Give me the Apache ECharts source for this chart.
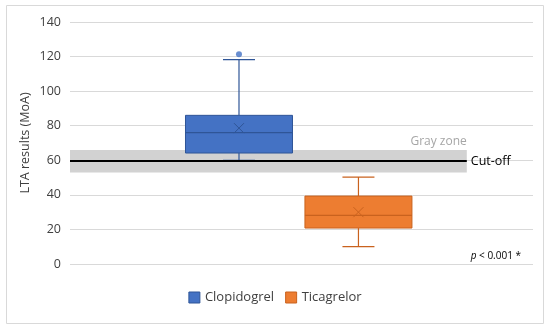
<!DOCTYPE html>
<html>
<head>
<meta charset="utf-8">
<script src="https://cdn.jsdelivr.net/npm/echarts@6/dist/echarts.min.js"></script>
<style>html,body{margin:0;padding:0;background:#fff}#c{width:550px;height:331px}</style>
</head>
<body>
<div id="c"></div>
<script>
// ---- data ----
const categories = ['Clopidogrel', 'Ticagrelor'];
// [min, Q1, median, Q3, max, mean]
const clopidogrelStats = [60, 64.2, 76, 86, 118.2, 78.6];
const ticagrelorStats = [10, 20.8, 28.1, 39.3, 50.3, 30];
const clopidogrelOutliers = [121.3];
const ticagrelorOutliers = [];
const grayZone = [53, 66];
const cutOff = 59.5;
const yTicks = [0, 20, 40, 60, 80, 100, 120, 140];
const pText = 'p < 0.001 *';

// ---- layout (positions on a hidden 0..100 horizontal scale) ----
const layout = { centers: [36.5, 62.3], zoneEnd: 85.7, boxW: 107, capW: 32, xSize: 5 };
const fills = ['#4472C4', '#ED7D31'];
const strokes = ['#2F5597', '#C9621E'];
const FONT = 'Open Sans';

function boxSeries(idx, stats) {
  return {
    name: categories[idx],
    type: 'custom',
    xAxisIndex: 0,
    itemStyle: { color: fills[idx], borderColor: strokes[idx] },
    data: [[layout.centers[idx]].concat(stats)],
    z: 2,
    renderItem: function (params, api) {
      const x = api.value(0);
      const Y = v => api.coord([x, v])[1];
      const cx = api.coord([x, 0])[0];
      const hw = layout.boxW / 2, cw = layout.capW / 2, s = layout.xSize;
      const mn = Y(api.value(1)), q1 = Y(api.value(2)), md = Y(api.value(3)),
            q3 = Y(api.value(4)), mx = Y(api.value(5)), mean = Y(api.value(6));
      const ls = { stroke: strokes[idx], lineWidth: 1.2 };
      return {
        type: 'group',
        children: [
          { type: 'line', shape: { x1: cx, y1: q3, x2: cx, y2: mx }, style: ls },
          { type: 'line', shape: { x1: cx, y1: q1, x2: cx, y2: mn }, style: ls },
          { type: 'line', shape: { x1: cx - cw, y1: mx, x2: cx + cw, y2: mx }, style: ls },
          { type: 'line', shape: { x1: cx - cw, y1: mn, x2: cx + cw, y2: mn }, style: ls },
          { type: 'rect', shape: { x: cx - hw, y: q3, width: layout.boxW, height: q1 - q3 },
            style: { fill: fills[idx], stroke: strokes[idx], lineWidth: 1 } },
          { type: 'line', shape: { x1: cx - hw, y1: md, x2: cx + hw, y2: md }, style: ls },
          { type: 'line', shape: { x1: cx - s, y1: mean - s, x2: cx + s, y2: mean + s }, style: { stroke: strokes[idx], lineWidth: 1 } },
          { type: 'line', shape: { x1: cx - s, y1: mean + s, x2: cx + s, y2: mean - s }, style: { stroke: strokes[idx], lineWidth: 1 } }
        ]
      };
    }
  };
}

const chart = echarts.init(document.getElementById('c'), null, { renderer: 'canvas' });
chart.setOption({
  animation: false,
  textStyle: { fontFamily: FONT },
  grid: { left: 70, right: 17, top: 22, bottom: 67 },
  xAxis: [{ type: 'value', min: 0, max: 100, show: false }],
  yAxis: {
    type: 'value', min: yTicks[0], max: yTicks[yTicks.length - 1], interval: 20,
    name: 'LTA results (MoA)', nameLocation: 'middle', nameRotate: 90, nameGap: 38,
    nameMoveOverlap: false,
    nameTextStyle: { color: '#404040', fontSize: 12.5, fontFamily: FONT },
    axisLine: { show: false }, axisTick: { show: false },
    axisLabel: { color: '#404040', fontSize: 12.5, margin: 9, fontFamily: FONT },
    splitLine: { lineStyle: { color: '#d9d9d9', width: 1 } }
  },
  legend: {
    data: categories, bottom: 22, left: 'center', icon: 'rect', itemWidth: 11, itemHeight: 11,
    itemGap: 11, textStyle: { color: '#404040', fontSize: 13, fontFamily: FONT },
    itemStyle: { borderWidth: 1 }
  },
  series: [
    boxSeries(0, clopidogrelStats),
    boxSeries(1, ticagrelorStats),
    {
      name: 'outliers-c', type: 'scatter', symbol: 'circle', symbolSize: 6,
      itemStyle: { color: fills[0] }, z: 3,
      data: clopidogrelOutliers.map(v => [layout.centers[0], v])
    },
    {
      name: 'outliers-t', type: 'scatter', symbol: 'circle', symbolSize: 6,
      itemStyle: { color: fills[1] }, z: 3,
      data: ticagrelorOutliers.map(v => [layout.centers[1], v])
    },
    {
      name: 'ref', type: 'line', data: [], z: 5, silent: true,
      markArea: {
        silent: true,
        itemStyle: { color: 'rgba(160,160,160,0.48)' },
        label: {
          show: true, position: ['100%', -2], align: 'right', verticalAlign: 'bottom',
          color: '#a6a6a6', fontSize: 12, fontFamily: FONT, formatter: 'Gray zone'
        },
        data: [[{ xAxis: 0, yAxis: grayZone[0] }, { xAxis: layout.zoneEnd, yAxis: grayZone[1] }]]
      },
      markLine: {
        silent: true, symbol: 'none',
        lineStyle: { color: '#000', width: 2, type: 'solid' },
        label: { show: true, position: 'end', formatter: 'Cut-off', color: '#000', fontSize: 12.5, fontFamily: FONT, distance: 4 },
        data: [[{ coord: [0, cutOff] }, { coord: [layout.zoneEnd, cutOff] }]]
      }
    }
  ],
  graphic: [
    { type: 'rect', shape: { x: 6.5, y: 5.5, width: 537, height: 318 },
      style: { fill: 'none', stroke: '#d9d9d9', lineWidth: 1 }, silent: true },
    { type: 'text', right: 29, top: 251,
      style: { text: '{i|p} < 0.001 *', fill: '#000', font: '10px ' + FONT,
        rich: { i: { fontStyle: 'italic', fontSize: 10, fontFamily: FONT, fill: '#000' } } } }
  ]
});
</script>
</body>
</html>
